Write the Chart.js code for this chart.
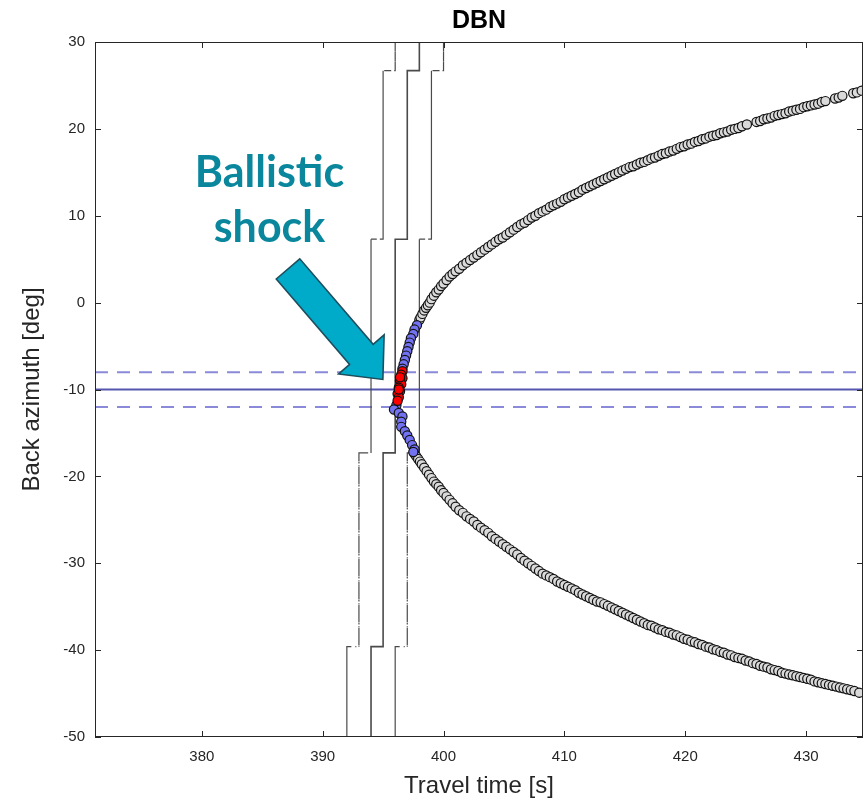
<!DOCTYPE html>
<html>
<head>
<meta charset="utf-8">
<script src="https://cdn.jsdelivr.net/npm/chart.js@4/dist/chart.umd.min.js"></script>
<style>body{margin:0;background:#fff}canvas{display:block}</style>
</head>
<body>
<canvas id="myChart" width="864" height="802"></canvas>
<script>
// travel time [s] / back azimuth [deg]
var upperT = [398.0,398.1,398.25,398.4,398.55,398.7,398.85,399.0,399.2,399.4,399.6,399.8,400.0,400.25,400.5,400.75,401.0,401.3,401.6,401.9,402.2,402.5,402.8,403.1,403.4,403.7,404.0,404.3,404.6,404.9,405.2,405.5,405.8,406.1,406.4,406.7,407.0,407.3,407.6,407.9,408.2,408.5,408.8,409.1,409.4,409.7,410.0,410.3,410.6,410.9,411.2,411.5,411.8,412.1,412.4,412.7,413.0,413.3,413.6,413.9,414.2,414.5,414.8,415.1,415.4,415.7,416.0,416.3,416.6,416.9,417.2,417.5,417.8,418.1,418.4,418.7,419.0,419.3,419.6,419.9,420.2,420.5,420.8,421.1,421.4,421.7,422.0,422.3,422.6,422.9,423.2,423.5,423.8,424.1,424.4,424.7,425.1,425.9,426.2,426.5,426.8,427.1,427.4,427.7,428.0,428.3,428.6,428.9,429.2,429.5,429.8,430.1,430.4,430.7,431.0,431.3,431.6,432.4,432.7,433.0,433.9,434.2,434.6];
var upperAz = [-2.0,-1.7,-1.3,-0.9,-0.6,-0.3,0.0,0.4,0.8,1.2,1.5,1.9,2.2,2.6,3.0,3.3,3.6,3.9,4.3,4.6,4.9,5.2,5.5,5.8,6.1,6.4,6.7,7.0,7.3,7.5,7.8,8.1,8.4,8.7,9.0,9.2,9.5,9.8,10.0,10.3,10.5,10.7,11.0,11.2,11.4,11.6,11.9,12.1,12.3,12.5,12.7,13.0,13.2,13.4,13.6,13.8,14.0,14.2,14.4,14.6,14.8,15.0,15.2,15.4,15.6,15.7,15.9,16.1,16.2,16.4,16.6,16.7,16.9,17.1,17.2,17.4,17.5,17.7,17.9,18.0,18.2,18.3,18.5,18.6,18.8,18.9,19.1,19.2,19.3,19.5,19.6,19.7,19.9,20.0,20.1,20.3,20.5,20.8,20.9,21.1,21.2,21.3,21.5,21.6,21.7,21.8,22.0,22.1,22.2,22.3,22.5,22.6,22.7,22.8,22.9,23.1,23.2,23.5,23.6,23.8,24.1,24.2,24.4];
var lowerT = [397.6,397.75,397.9,398.05,398.2,398.4,398.6,398.8,399.0,399.2,399.4,399.6,399.8,400.0,400.25,400.5,400.75,401.0,401.3,401.6,401.9,402.2,402.5,402.8,403.1,403.4,403.7,404.0,404.3,404.6,404.9,405.2,405.5,405.8,406.1,406.4,406.7,407.0,407.3,407.6,407.9,408.2,408.5,408.8,409.1,409.4,409.7,410.0,410.3,410.6,410.9,411.2,411.5,411.8,412.1,412.4,412.7,413.0,413.3,413.6,413.9,414.2,414.5,414.8,415.1,415.4,415.7,416.0,416.3,416.6,416.9,417.2,417.5,417.8,418.1,418.4,418.7,419.0,419.3,419.6,419.9,420.2,420.5,420.8,421.1,421.4,421.7,422.0,422.3,422.6,422.9,423.2,423.5,423.8,424.1,424.4,424.7,425.0,425.3,425.6,425.9,426.2,426.5,426.8,427.1,427.4,427.7,428.0,428.3,428.6,428.9,429.2,429.5,429.8,430.1,430.4,430.7,431.0,431.3,431.6,431.9,432.2,432.5,432.8,433.1,433.4,433.7,434.0,434.4];
var lowerAz = [-17.4,-17.7,-18.0,-18.3,-18.6,-19.0,-19.4,-19.8,-20.2,-20.6,-20.9,-21.2,-21.6,-21.9,-22.3,-22.7,-23.1,-23.5,-23.9,-24.2,-24.6,-24.9,-25.2,-25.6,-25.9,-26.2,-26.5,-26.9,-27.2,-27.5,-27.8,-28.1,-28.4,-28.7,-29.0,-29.4,-29.7,-30.0,-30.3,-30.6,-30.9,-31.2,-31.4,-31.6,-31.8,-32.1,-32.3,-32.5,-32.7,-32.9,-33.1,-33.4,-33.6,-33.8,-34.0,-34.2,-34.4,-34.5,-34.7,-34.9,-35.1,-35.3,-35.5,-35.7,-35.9,-36.1,-36.3,-36.5,-36.7,-36.9,-37.1,-37.2,-37.4,-37.6,-37.7,-37.9,-38.0,-38.2,-38.3,-38.5,-38.7,-38.8,-39.0,-39.1,-39.3,-39.4,-39.6,-39.7,-39.9,-40.0,-40.2,-40.3,-40.5,-40.6,-40.8,-40.9,-41.0,-41.2,-41.3,-41.5,-41.6,-41.8,-41.9,-42.0,-42.2,-42.3,-42.4,-42.6,-42.7,-42.8,-42.9,-43.0,-43.1,-43.2,-43.3,-43.4,-43.6,-43.7,-43.8,-43.9,-44.0,-44.1,-44.2,-44.3,-44.4,-44.5,-44.6,-44.7,-44.9];
var blueT = [397.8,397.6,397.5,397.3,397.2,397.1,397.0,396.9,396.8,396.7,396.6,396.1,395.9,396.3,396.6,396.5,396.5,396.8,397.0,397.2,397.4,397.6,397.5];
var blueAz = [-2.6,-3.1,-3.6,-4.1,-4.6,-5.1,-5.6,-6.1,-6.6,-7.1,-7.6,-11.8,-12.3,-12.7,-13.1,-13.7,-14.3,-14.8,-15.3,-15.8,-16.4,-16.9,-17.2];
var redT = [396.6,396.5,396.6,396.4,396.5,396.3,396.4,396.2,396.3,396.2,396.4,396.3];
var redAz = [-7.9,-8.3,-8.7,-9.0,-9.4,-9.8,-10.2,-10.5,-10.9,-11.3,-8.6,-10.0];

// stepped window lines
var stepAz = [30, 26.7, 7.3, -17.3, -39.6, -50];
var leftT = [396, 395, 394, 393, 392];
var centerT = [398, 397, 396, 395, 394];
var rightT = [400, 399, 398, 397, 396];

// back azimuth reference and bounds
var refAz = -10;
var boundAz = [-8, -12];

var xTicks = [380, 390, 400, 410, 420, 430];
var yTicks = [30, 20, 10, 0, -10, -20, -30, -40, -50];
var xMin = 371.16, xMax = 434.71;

// annotation (data coords)
var arrowFrom = [387.13, 3.88], arrowTo = [394.98, -8.84];
var labelT = 385.6, labelAz = [13.35, 7.02], labelText = ["Ballistic", "shock"];

function pts(xs, ys) {
    return xs.map(function (x, i) { return { x: x, y: ys[i] }; });
}

function steps(xs) {
    var out = [];
    for (var i = 0; i < xs.length; i++) {
        out.push({ x: xs[i], y: stepAz[i] });
        out.push({ x: xs[i], y: stepAz[i + 1] });
    }
    return out;
}

function outerDash(c) {
    return Math.min(c.p0.parsed.y, c.p1.parsed.y) >= 7.3 ? [7, 3] : [14, 4, 1, 4];
}

var dotStyle = function (fill) {
    return { backgroundColor: fill, borderColor: "#111", borderWidth: 1.2, pointRadius: 4.6, showLine: false };
};

var boxPlugin = {
    id: "box",
    afterDatasetsDraw: function (chart) {
        var ctx = chart.ctx, a = chart.chartArea;
        var xs = chart.scales.x, ys = chart.scales.y;
        // arrow
        var x0 = xs.getPixelForValue(arrowFrom[0]), y0 = ys.getPixelForValue(arrowFrom[1]);
        var x1 = xs.getPixelForValue(arrowTo[0]), y1 = ys.getPixelForValue(arrowTo[1]);
        var dx = x1 - x0, dy = y1 - y0, len = Math.sqrt(dx * dx + dy * dy);
        var ux = dx / len, uy = dy / len, nx = -uy, ny = ux;
        var sw = 15.5, hw = 30, hl = 33;
        var bx = x1 - ux * hl, by = y1 - uy * hl;
        ctx.save();
        ctx.beginPath();
        ctx.moveTo(x0 + nx * sw, y0 + ny * sw);
        ctx.lineTo(bx + nx * sw, by + ny * sw);
        ctx.lineTo(bx + nx * hw, by + ny * hw);
        ctx.lineTo(x1, y1);
        ctx.lineTo(bx - nx * hw, by - ny * hw);
        ctx.lineTo(bx - nx * sw, by - ny * sw);
        ctx.lineTo(x0 - nx * sw, y0 - ny * sw);
        ctx.closePath();
        ctx.fillStyle = "#00abca";
        ctx.fill();
        ctx.lineWidth = 1.6;
        ctx.strokeStyle = "#1d4e5e";
        ctx.stroke();
        // label
        ctx.fillStyle = "#0a879d";
        ctx.font = "bold 43px Lato";
        ctx.textAlign = "center";
        ctx.textBaseline = "alphabetic";
        for (var i = 0; i < labelText.length; i++) {
            ctx.fillText(labelText[i], xs.getPixelForValue(labelT), ys.getPixelForValue(labelAz[i]));
        }
        // title over the axes
        ctx.fillStyle = "#000";
        ctx.font = "bold 25px 'Liberation Sans'";
        ctx.textBaseline = "middle";
        ctx.fillText("DBN", (a.left + a.right) / 2, 21);
        // axis box with inward ticks
        ctx.strokeStyle = "#262626";
        ctx.lineWidth = 1;
        ctx.strokeRect(a.left + 0.5, a.top + 0.5, a.right - a.left - 1, a.bottom - a.top - 1);
        ctx.beginPath();
        xTicks.forEach(function (v) {
            var p = Math.round(xs.getPixelForValue(v)) + 0.5;
            ctx.moveTo(p, a.bottom); ctx.lineTo(p, a.bottom - 6);
            ctx.moveTo(p, a.top); ctx.lineTo(p, a.top + 6);
        });
        yTicks.forEach(function (v) {
            var p = Math.round(ys.getPixelForValue(v)) + 0.5;
            ctx.moveTo(a.left, p); ctx.lineTo(a.left + 6, p);
            ctx.moveTo(a.right, p); ctx.lineTo(a.right - 6, p);
        });
        ctx.stroke();
        ctx.restore();
    }
};

var grayLine = "#4a4a4a";

var myChart = document.getElementById("myChart").getContext("2d");
var chart = new Chart(myChart, {
    type: "scatter",
    data: {
        datasets: [
            Object.assign({ data: pts(redT, redAz) }, dotStyle("#ff0000")),
            Object.assign({ data: pts(blueT, blueAz) }, dotStyle("#7373f2")),
            Object.assign({ data: pts(upperT, upperAz) }, dotStyle("#dadada")),
            Object.assign({ data: pts(lowerT, lowerAz) }, dotStyle("#dadada")),
            { data: steps(leftT), showLine: true, pointRadius: 0, borderColor: grayLine, borderWidth: 1.2, segment: { borderDash: outerDash } },
            { data: steps(centerT), showLine: true, pointRadius: 0, borderColor: grayLine, borderWidth: 1.6 },
            { data: steps(rightT), showLine: true, pointRadius: 0, borderColor: grayLine, borderWidth: 1.2, segment: { borderDash: outerDash } },
            { data: [{ x: xMin, y: refAz }, { x: xMax, y: refAz }], showLine: true, pointRadius: 0, borderColor: "#5656b0", borderWidth: 2 },
            { data: [{ x: xMin, y: boundAz[0] }, { x: xMax, y: boundAz[0] }], showLine: true, pointRadius: 0, borderColor: "#8a8ad8", borderWidth: 2, borderDash: [13, 9] },
            { data: [{ x: xMin, y: boundAz[1] }, { x: xMax, y: boundAz[1] }], showLine: true, pointRadius: 0, borderColor: "#8a8ad8", borderWidth: 2, borderDash: [13, 9] }
        ]
    },
    options: {
        responsive: false,
        animation: false,
        layout: { autoPadding: false, padding: { top: 42, right: 1 } },
        plugins: {
            legend: { display: false },
            tooltip: { enabled: false },
            title: { display: false }
        },
        scales: {
            x: {
                type: "linear",
                min: xMin,
                max: xMax,
                afterBuildTicks: function (s) { s.ticks = xTicks.map(function (v) { return { value: v }; }); },
                afterFit: function (s) { s.height = 65; s.paddingLeft = 0; s.paddingRight = 0; },
                grid: { display: false, drawTicks: false },
                border: { display: false },
                ticks: { padding: 11, color: "#262626", font: { family: "Liberation Sans", size: 15 } },
                title: {
                    display: true,
                    text: "Travel time [s]",
                    color: "#262626",
                    font: { family: "Liberation Sans", size: 24, lineHeight: 1.2 },
                    padding: { top: 0, bottom: 1 }
                }
            },
            y: {
                type: "linear",
                min: -50,
                max: 30,
                afterBuildTicks: function (s) { s.ticks = yTicks.map(function (v) { return { value: v }; }); },
                afterFit: function (s) { s.width = 95; s.paddingTop = 0; s.paddingBottom = 0; },
                grid: { display: false, drawTicks: false },
                border: { display: false },
                ticks: { padding: 10, color: "#262626", font: { family: "Liberation Sans", size: 15 } },
                title: {
                    display: true,
                    text: "Back azimuth [deg]",
                    color: "#262626",
                    font: { family: "Liberation Sans", size: 24, lineHeight: 1.2 },
                    padding: { top: 18, bottom: 0 }
                }
            }
        }
    },
    plugins: [boxPlugin]
});
</script>
</body>
</html>
